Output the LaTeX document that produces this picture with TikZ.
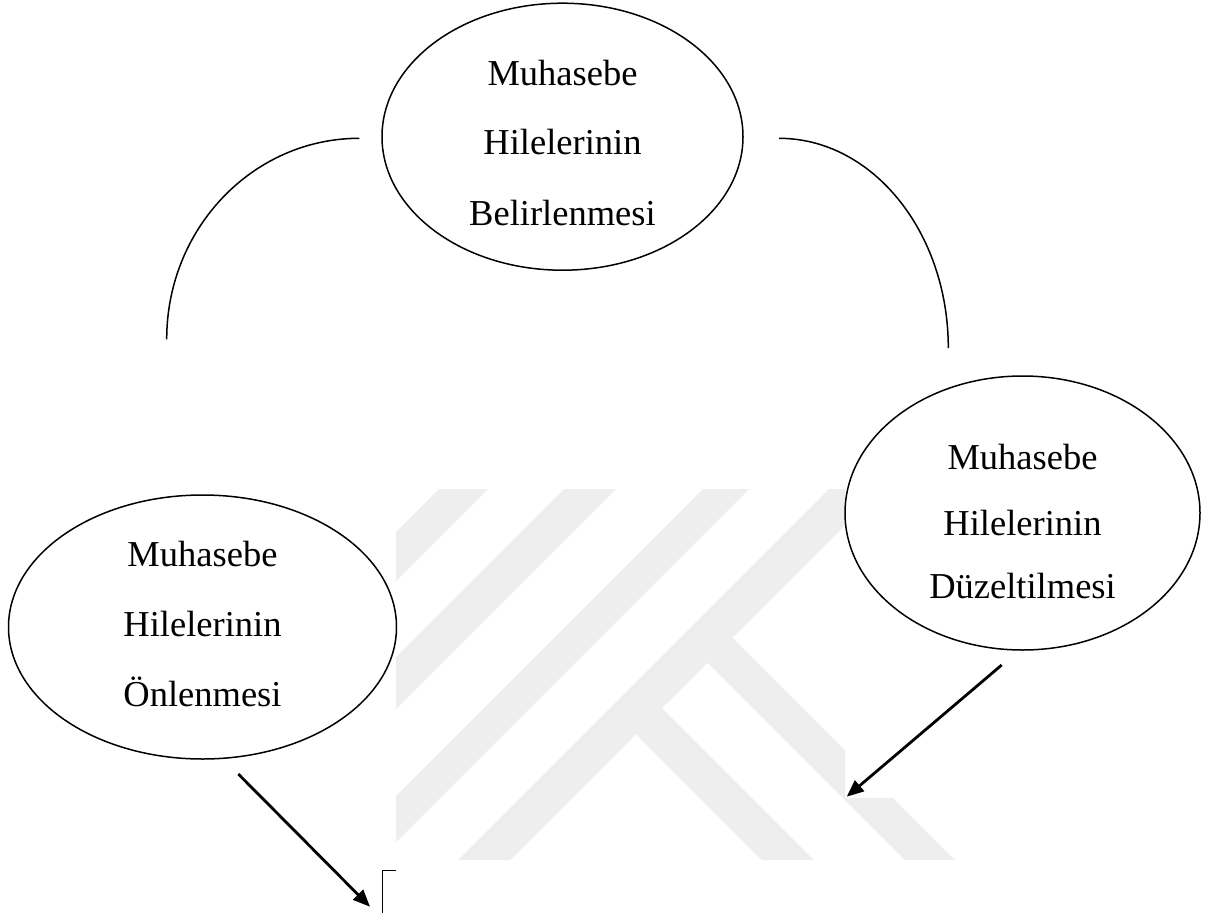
\documentclass[tikz,border=0pt]{standalone}
\usepackage{fontspec}
\setmainfont{Liberation Serif}
\usetikzlibrary{shapes.geometric,arrows.meta}
\definecolor{wm}{RGB}{238,238,238}
\tikzset{
  bubble/.style={draw=black, ellipse, line width=1.5pt, inner sep=0pt, fill=white},
  lbl/.style={anchor=base, inner sep=0pt, font=\fontsize{36.5}{40}\selectfont},
  arc line/.style={draw=black, line width=1.5pt},
  flow/.style={draw=black, line width=2.8pt, -{Triangle[length=17pt,width=14pt]}},
  wmband/.style={fill=wm, draw=none}
}
\begin{document}
\begin{tikzpicture}[x=1pt,y=-1pt]
\useasboundingbox (0,0) rectangle (1216,913);
\fill[white] (0,0) rectangle (1216,913);

% watermark
\begin{scope}
  \clip (396,489) -- (845,489) -- (845,798) -- (1010,798) -- (1010,860) -- (396,860) -- cycle;
  \fill[wmband] (528,400) -- (577,400) -- (-23,1000) -- (-72,1000) -- cycle;
  \fill[wmband] (653,400) -- (705,400) -- (105,1000) -- (53,1000) -- cycle;
  \fill[wmband] (792,400) -- (838,400) -- (238,1000) -- (192,1000) -- cycle;
  \fill[wmband] (918,400) -- (970,400) -- (370,1000) -- (318,1000) -- cycle;
  % branch A (y-x in [46,98])
  \fill[wmband] (649.5,695.5) -- (954,1000) -- (902,1000) -- (623.5,721.5) -- cycle;
  % branch B (y-x in [-95,-45])
  \fill[wmband] (720,625) -- (1095,1000) -- (1045,1000) -- (695,650) -- cycle;
\end{scope}

% ellipses
\node[bubble, minimum width=361pt, minimum height=267pt] (top) at (562.5,136.7) {};
\node[bubble, minimum width=388pt, minimum height=264pt] (left) at (202.5,627) {};
\node[bubble, minimum width=355pt, minimum height=274pt] (right) at (1022.5,513) {};

% texts
\node[lbl] (t1) at (562.5,85) {Muhasebe};
\node[lbl] (t2) at (562.5,154) {Hilelerinin};
\node[lbl] (t3) at (562.5,225) {Belirlenmesi};
\node[lbl] (l1) at (202.5,566.7) {Muhasebe};
\node[lbl] (l2) at (202.5,636.7) {Hilelerinin};
\node[lbl] (l3) at (202.5,706.7) {Önlenmesi};
\node[lbl] (r1) at (1022.5,469) {Muhasebe};
\node[lbl] (r2) at (1022.5,535) {Hilelerinin};
\node[lbl] (r3) at (1022.5,598.3) {Düzeltilmesi};

% arcs
\coordinate (la1) at (359.3,138.3);
\coordinate (la2) at (166.7,339.3);
\coordinate (ra1) at (779,138.3);
\coordinate (ra2) at (948.3,348);
\draw[arc line] (la1) .. controls (252.9,138.3) and (166.7,228.3) .. (la2);
\draw[arc line] (ra1) .. controls (872.5,138.3) and (948.3,232.2) .. (ra2);

% arrows
\coordinate (ls) at (238.3,774);
\coordinate (le) at (370,906.7);
\coordinate (rs) at (1001.7,665);
\coordinate (re) at (846.7,796.7);
\draw[flow] (ls) -- (le);
\draw[flow] (rs) -- (re);

% cut-off corner
\coordinate (b1) at (395.7,870.7);
\coordinate (b2) at (382.3,870.7);
\coordinate (b3) at (382.3,913);
\draw[line width=1pt] (b1) -- (b2) -- (b3);
\end{tikzpicture}
\end{document}
